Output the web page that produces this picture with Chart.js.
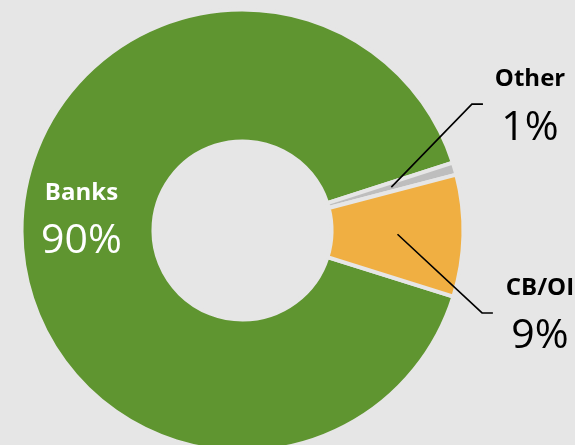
<!DOCTYPE html>
<html>
<head>
<meta charset="utf-8">
<title>Funding sources</title>
<script src="https://cdn.jsdelivr.net/npm/chart.js@4"></script>
<style>
  html, body { margin: 0; padding: 0; background: #e6e6e6; overflow: hidden; }
  #wrap { width: 575px; height: 445px; overflow: hidden; }
</style>
</head>
<body>
<div id="wrap"><canvas id="donut" width="575" height="460"></canvas></div>
<script>
/* ---------- DATA ---------- */

const categories = ["Banks", "Other", "CB/OI"];
const shares = [90.2, 0.9, 8.9];
const colors = ["#5f9530", "#bebebe", "#f0af42"];

const BG = "#e6e6e6";

/* ---------- LABELS ---------- */

// placement of each label, relative to the ring centre, in outer radii
const placement = [
  { inside: true, dx: -6, dy: -31, gap: 53, color: "#ffffff" },
  { text: [1.301, -0.654], knee: [1.038, -0.572], end: [1.088, -0.572], gap: 54, color: "#000000" },
  { text: [1.346, 0.292], knee: [1.084, 0.373], end: [1.133, 0.373], gap: 53, color: "#000000" }
];

const labelPlugin = {
  id: "sliceLabels",
  afterDatasetsDraw(chart) {
    const ctx = chart.ctx;
    const arcs = chart.getDatasetMeta(0).data;

    arcs.forEach((arc, i) => {
      const p = placement[i];
      const mid = arc.tooltipPosition();
      const R = arc.outerRadius;
      const cx = arc.x, cy = arc.y;
      let tx, ty;

      if (p.inside) {
        tx = mid.x + p.dx;
        ty = mid.y + p.dy;
      } else {
        tx = cx + p.text[0] * R;
        ty = cy + p.text[1] * R;

        // leader line from the middle of the slice to the label
        ctx.save();
        ctx.strokeStyle = "#000000";
        ctx.lineWidth = 1.6;
        ctx.beginPath();
        ctx.moveTo(mid.x, mid.y);
        ctx.lineTo(cx + p.knee[0] * R, cy + p.knee[1] * R);
        ctx.lineTo(cx + p.end[0] * R, cy + p.end[1] * R);
        ctx.stroke();
        ctx.restore();
      }

      ctx.save();
      ctx.fillStyle = p.color;
      ctx.textAlign = "center";
      ctx.textBaseline = "alphabetic";
      ctx.font = "bold 24px 'Open Sans'";
      ctx.fillText(categories[i], tx, ty);
      ctx.font = "41px 'Open Sans'";
      ctx.fillText(Math.round(shares[i]) + "%", tx, ty + p.gap);
      ctx.restore();
    });
  }
};

/* ---------- CHART ---------- */

new Chart(document.getElementById("donut"), {
  type: "doughnut",
  data: {
    labels: categories,
    datasets: [{
      data: shares,
      backgroundColor: colors,
      borderColor: BG,
      borderWidth: 4,
      hoverBorderWidth: 4,
      hoverOffset: 0
    }]
  },
  options: {
    responsive: false,
    animation: false,
    rotation: 107.4,
    cutout: "40.3%",
    layout: { padding: { left: 19.5, right: 109.5, top: 7.5, bottom: 6.5 } },
    plugins: {
      legend: { display: false },
      tooltip: { enabled: false }
    }
  },
  plugins: [labelPlugin]
});
</script>
</body>
</html>
